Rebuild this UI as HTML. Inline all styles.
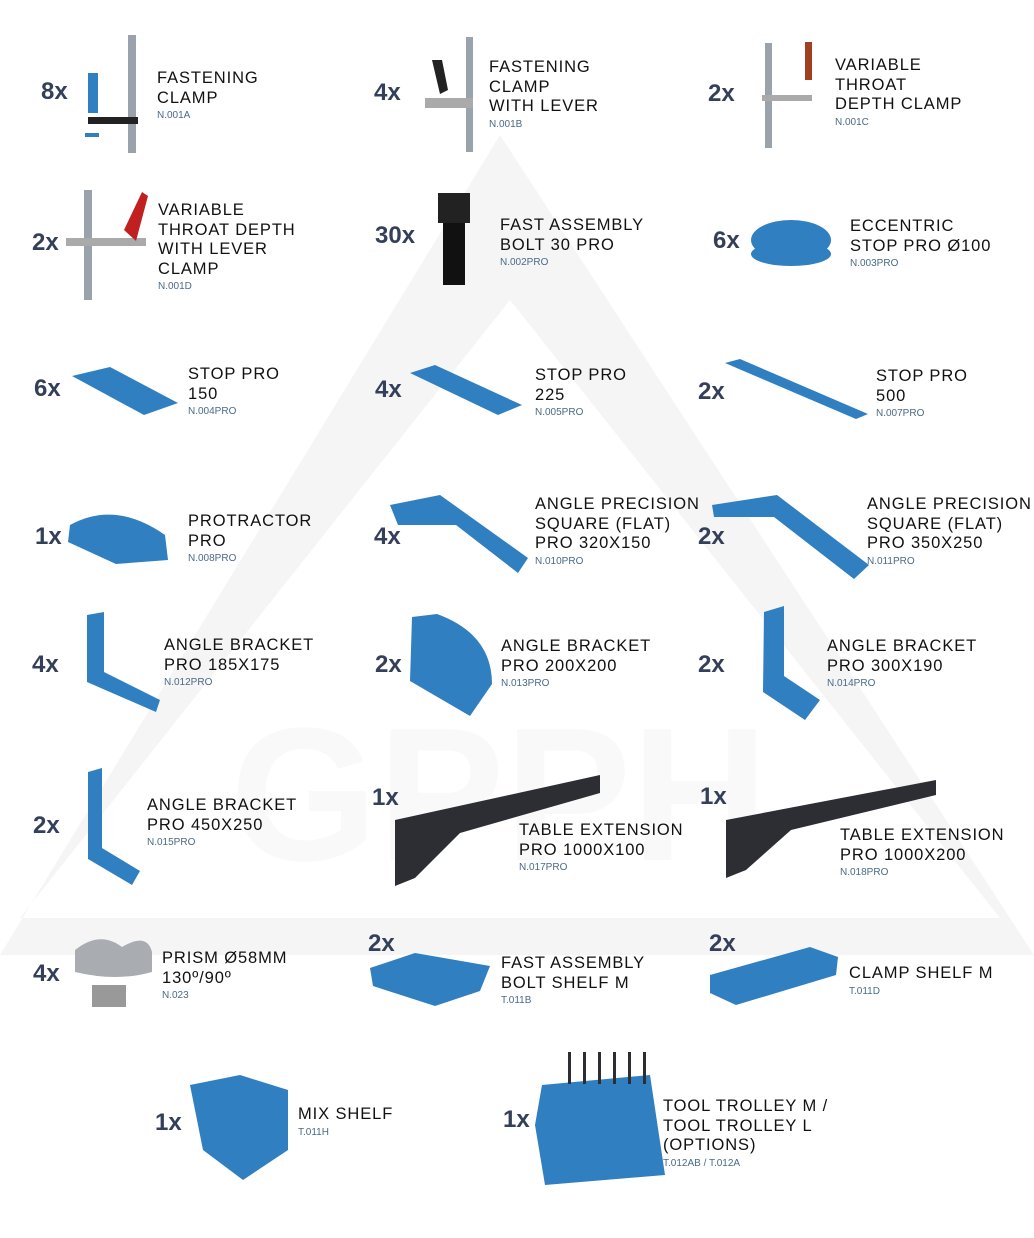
<!DOCTYPE html>
<html><head><meta charset="utf-8"><style>
body{margin:0;width:1034px;height:1238px;background:#fff;position:relative;overflow:hidden;font-family:"Liberation Sans",sans-serif}
.q{position:absolute;font-weight:bold;font-size:24px;color:#34405a;line-height:24px}
.t{position:absolute;font-size:16.5px;letter-spacing:0.9px;color:#111;line-height:19.6px;white-space:nowrap}
.t small{display:block;font-size:10px;letter-spacing:0;color:#4a6a88;line-height:16px}
svg.i{position:absolute;left:0;top:0}
</style></head><body>
<svg class="i" width="1034" height="1238">
<path fill="#f5f5f5" fill-rule="evenodd" d="M500 135 L1034 955 L0 955 Z M510 300 L20 918 L1000 918 Z"/>
<text x="230" y="860" font-family="Liberation Sans" font-weight="bold" font-size="190" fill="#f9f9f9">GPPH</text>
<g fill="#2f7fc1">
<rect x="128" y="35" width="8" height="118" fill="#9aa3ab"/><rect x="88" y="73" width="10" height="40"/><rect x="88" y="117" width="50" height="7" fill="#222"/><rect x="85" y="133" width="14" height="4"/>
<rect x="466" y="37" width="7" height="115" fill="#9aa3ab"/><path d="M432 60 l10 0 l6 30 l-8 4z" fill="#222"/><rect x="425" y="98" width="48" height="10" fill="#aaa"/>
<rect x="765" y="43" width="7" height="105" fill="#9aa3ab"/><rect x="762" y="95" width="50" height="6" fill="#aaa"/><rect x="805" y="42" width="7" height="38" fill="#a04020"/>
<rect x="84" y="190" width="8" height="110" fill="#9aa3ab"/><rect x="66" y="238" width="80" height="8" fill="#aaa"/><path d="M124 230 l18 -38 l6 4 l-12 45z" fill="#c02020"/>
<rect x="438" y="193" width="32" height="30" fill="#222"/><rect x="443" y="223" width="22" height="62" fill="#111"/>
<ellipse cx="791" cy="240" rx="40" ry="20"/><ellipse cx="791" cy="254" rx="40" ry="12"/>
<path d="M72 376 l38 -9 l68 36 l-34 12z"/>
<path d="M410 373 l25 -8 l87 40 l-24 10z"/>
<path d="M725 363 l15 -4 l128 55 l-12 5z"/>
<path d="M70 525 q45 -25 95 10 l3 25 l-52 4 l-48 -22z"/>
<path d="M390 505 l50 -10 l88 63 l-10 15 l-62 -48 l-58 0z"/>
<path d="M712 505 l65 -10 l92 70 l-15 14 l-80 -62 l-60 0z"/>
<path d="M87 615 l17 -3 l0 60 l56 28 l-4 12 l-69 -30z"/>
<path d="M412 617 l25 -3 q55 20 55 70 l-22 32 l-60 -35z"/>
<path d="M764 612 l20 -6 l0 70 l36 24 l-15 20 l-42 -28z"/>
<path d="M88 772 l14 -4 l0 80 l38 23 l-8 14 l-44 -26z"/>
<path d="M395 820 l205 -45 l0 18 l-140 40 l-45 45 l-20 8z" fill="#2c2e33"/>
<path d="M726 820 l210 -40 l0 15 l-145 35 l-45 40 l-20 8z" fill="#2c2e33"/>
<path d="M75 950 q25 -20 47 -3 q25 -15 30 5 l0 20 q-35 10 -77 0z" fill="#a9acb0"/><rect x="92" y="985" width="34" height="22" fill="#999"/>
<path d="M370 968 l45 -15 l75 13 l-10 25 l-45 15 l-62 -20z"/>
<path d="M710 975 l100 -28 l28 10 l-2 18 l-100 30 l-26 -12z"/>
<path d="M190 1085 l50 -10 l48 15 l0 60 l-45 30 l-40 -30z"/>
<path d="M542 1085 l108 -10 l15 100 l-120 10 l-10 -60z"/>
<g fill="#2c2e33"><rect x="568" y="1052" width="3" height="32"/><rect x="583" y="1052" width="3" height="32"/><rect x="598" y="1052" width="3" height="32"/><rect x="613" y="1052" width="3" height="32"/><rect x="628" y="1052" width="3" height="32"/><rect x="643" y="1052" width="3" height="32"/></g>
</g>
</svg>

<div class="q" style="left:41px;top:80px">8x</div>
<div class="t" style="left:157px;top:69px">FASTENING<br>CLAMP<small>N.001A</small></div>
<div class="q" style="left:374px;top:81px">4x</div>
<div class="t" style="left:489px;top:58px">FASTENING<br>CLAMP<br>WITH LEVER<small>N.001B</small></div>
<div class="q" style="left:708px;top:82px">2x</div>
<div class="t" style="left:835px;top:56px">VARIABLE<br>THROAT<br>DEPTH CLAMP<small>N.001C</small></div>

<div class="q" style="left:32px;top:231px">2x</div>
<div class="t" style="left:158px;top:201px">VARIABLE<br>THROAT DEPTH<br>WITH LEVER<br>CLAMP<small>N.001D</small></div>
<div class="q" style="left:375px;top:224px">30x</div>
<div class="t" style="left:500px;top:216px">FAST ASSEMBLY<br>BOLT 30 PRO<small>N.002PRO</small></div>
<div class="q" style="left:713px;top:229px">6x</div>
<div class="t" style="left:850px;top:217px">ECCENTRIC<br>STOP PRO Ø100<small>N.003PRO</small></div>

<div class="q" style="left:34px;top:377px">6x</div>
<div class="t" style="left:188px;top:365px">STOP PRO<br>150<small>N.004PRO</small></div>
<div class="q" style="left:375px;top:378px">4x</div>
<div class="t" style="left:535px;top:366px">STOP PRO<br>225<small>N.005PRO</small></div>
<div class="q" style="left:698px;top:380px">2x</div>
<div class="t" style="left:876px;top:367px">STOP PRO<br>500<small>N.007PRO</small></div>

<div class="q" style="left:35px;top:525px">1x</div>
<div class="t" style="left:188px;top:512px">PROTRACTOR<br>PRO<small>N.008PRO</small></div>
<div class="q" style="left:374px;top:525px">4x</div>
<div class="t" style="left:535px;top:495px">ANGLE PRECISION<br>SQUARE (FLAT)<br>PRO 320X150<small>N.010PRO</small></div>
<div class="q" style="left:698px;top:525px">2x</div>
<div class="t" style="left:867px;top:495px">ANGLE PRECISION<br>SQUARE (FLAT)<br>PRO 350X250<small>N.011PRO</small></div>

<div class="q" style="left:32px;top:653px">4x</div>
<div class="t" style="left:164px;top:636px">ANGLE BRACKET<br>PRO 185X175<small>N.012PRO</small></div>
<div class="q" style="left:375px;top:653px">2x</div>
<div class="t" style="left:501px;top:637px">ANGLE BRACKET<br>PRO 200X200<small>N.013PRO</small></div>
<div class="q" style="left:698px;top:653px">2x</div>
<div class="t" style="left:827px;top:637px">ANGLE BRACKET<br>PRO 300X190<small>N.014PRO</small></div>

<div class="q" style="left:33px;top:814px">2x</div>
<div class="t" style="left:147px;top:796px">ANGLE BRACKET<br>PRO 450X250<small>N.015PRO</small></div>
<div class="q" style="left:372px;top:786px">1x</div>
<div class="t" style="left:519px;top:821px">TABLE EXTENSION<br>PRO 1000X100<small>N.017PRO</small></div>
<div class="q" style="left:700px;top:785px">1x</div>
<div class="t" style="left:840px;top:826px">TABLE EXTENSION<br>PRO 1000X200<small>N.018PRO</small></div>

<div class="q" style="left:33px;top:962px">4x</div>
<div class="t" style="left:162px;top:949px">PRISM Ø58MM<br>130º/90º<small>N.023</small></div>
<div class="q" style="left:368px;top:932px">2x</div>
<div class="t" style="left:501px;top:954px">FAST ASSEMBLY<br>BOLT SHELF M<small>T.011B</small></div>
<div class="q" style="left:709px;top:932px">2x</div>
<div class="t" style="left:849px;top:964px">CLAMP SHELF M<small>T.011D</small></div>

<div class="q" style="left:155px;top:1111px">1x</div>
<div class="t" style="left:298px;top:1105px">MIX SHELF<small>T.011H</small></div>
<div class="q" style="left:503px;top:1108px">1x</div>
<div class="t" style="left:663px;top:1097px">TOOL TROLLEY M /<br>TOOL TROLLEY L<br>(OPTIONS)<small>T.012AB / T.012A</small></div>
</body></html>
